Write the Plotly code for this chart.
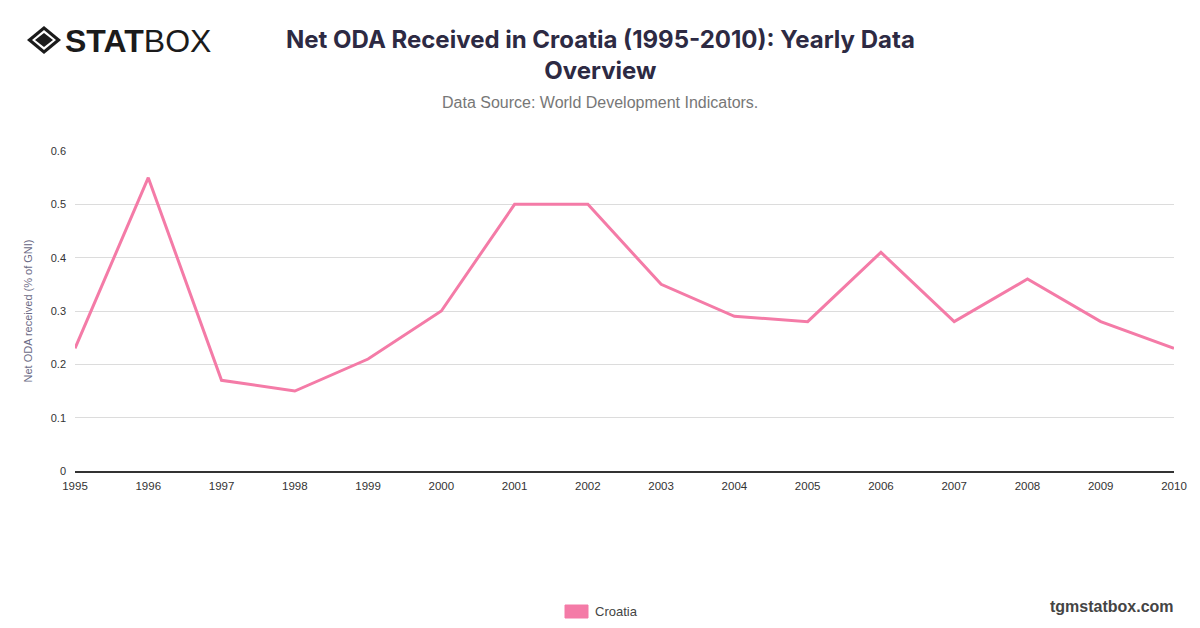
import plotly.graph_objects as go

years = list(range(1995, 2011))
oda_pct_gni = [0.23, 0.55, 0.17, 0.15, 0.21, 0.30, 0.50, 0.50,
               0.35, 0.29, 0.28, 0.41, 0.28, 0.36, 0.28, 0.23]
y_ticks = [0, 0.1, 0.2, 0.3, 0.4, 0.5, 0.6]
y_tick_labels = ["0", "0.1", "0.2", "0.3", "0.4", "0.5", "0.6"]

PINK = "#f47ba7"
W, H = 1200, 628
OFF = 8  # page body margin
L, R, T, B = 75 - OFF, 26 + OFF, 151 - OFF, 157 + OFF


def px(x, y):
    # screenshot pixels -> paper coords
    x, y = x - OFF, y - OFF
    return (x - L) / (W - L - R), (H - B - y) / (H - T - B)


fig = go.Figure()
fig.add_trace(go.Scatter(x=years, y=oda_pct_gni, mode="lines", name="Croatia",
                         line=dict(color=PINK, width=3), showlegend=False,
                         hovertemplate="%{x}: %{y}<extra>Croatia</extra>"))

fig.update_layout(
    width=W, height=H,
    margin=dict(l=L, r=R, t=T, b=B),
    paper_bgcolor="white", plot_bgcolor="white",
    font=dict(family="Liberation Sans, Arial, sans-serif", color="#333"),
    xaxis=dict(range=[1995, 2010], tickvals=years, ticks="", showgrid=False,
               showline=True, linecolor="#333", linewidth=1.5, ticklabelstandoff=3,
               tickfont=dict(size=11.5, color="#333"), zeroline=False, fixedrange=True),
    yaxis=dict(range=[0, 0.6], tickvals=y_ticks, ticktext=y_tick_labels,
               showgrid=True, gridcolor="#dcdcdc", gridwidth=1, zeroline=False,
               tickfont=dict(size=11, color="#333"), ticklabelstandoff=8,
               title=dict(text="Net ODA received (% of GNI)", standoff=15,
                          font=dict(size=11, color="#6b6a85")),
               fixedrange=True),
)


def note(text, x, y, size, color, family="Liberation Sans, Arial, sans-serif", xanchor="center"):
    u, v = px(x, y)
    fig.add_annotation(text=text, x=u, y=v, xref="paper", yref="paper", showarrow=False,
                       xanchor=xanchor, yanchor="middle",
                       font=dict(family=family, size=size, color=color))


# title + subtitle
note("<b>Net ODA Received in Croatia (1995-2010): Yearly Data<br>Overview</b>", 600, 55, 24,
     "#2d2a43", family="Inter, Liberation Sans, sans-serif")
note("Data Source: World Development Indicators.", 600, 102, 16, "#777")

# logo
note("<b>STAT</b>BOX", 63, 41, 32, "#1b1b1b", xanchor="left")


def diamond(cx, cy, rx, ry):
    pts = [(cx, cy - ry), (cx + rx, cy), (cx, cy + ry), (cx - rx, cy)]
    s = ""
    for i, (a, b) in enumerate(pts):
        u, v = px(a, b)
        s += ("M" if i == 0 else "L") + f"{u:.5f},{v:.5f} "
    return s + "Z"


for (rx, ry, col) in [(17, 14, "#1b1b1b"), (12, 10, "white"), (9, 7, "#1b1b1b")]:
    fig.add_shape(type="path", path=diamond(44, 40, rx, ry), xref="paper", yref="paper",
                  fillcolor=col, line=dict(width=0))

# legend
x0, y0 = px(565, 605)
x1, y1 = px(588, 618)
fig.add_shape(type="rect", x0=x0, y0=y0, x1=x1, y1=y1, xref="paper", yref="paper",
              fillcolor=PINK, line=dict(color=PINK, width=1))
note("Croatia", 593, 611, 13, "#444", xanchor="left")

# watermark
note("<b>tgmstatbox.com</b>", 1176, 606, 16, "#444", xanchor="right")

fig.write_html("out.html")
